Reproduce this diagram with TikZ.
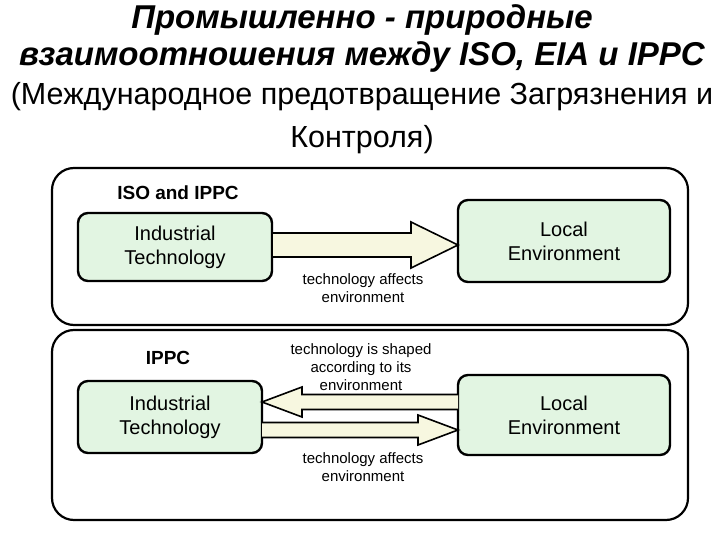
\documentclass[tikz,border=0pt]{standalone}
\usepackage{fontspec}
\setmainfont{Liberation Sans}
\definecolor{boxg}{HTML}{E2F5E2}
\definecolor{arrf}{HTML}{F7F7E0}
\newcommand{\fatarrow}[6]{% start, end, y, shaft half, head half, head len (signed)
  \draw[arr] (#1,#3-#4) -- (#2-#6,#3-#4) -- (#2-#6,#3-#5) -- (#2,#3) -- (#2-#6,#3+#5) -- (#2-#6,#3+#4) -- (#1,#3+#4);}
\begin{document}
\begin{tikzpicture}[x=1pt,y=-1pt,
 panel/.style={draw,line width=2.2pt,rounded corners=22pt},
 gbox/.style={draw,line width=2.4pt,rounded corners=10pt,fill=boxg,align=center,font=\fontsize{20}{24}\selectfont},
 arr/.style={draw,line width=1.6pt,fill=arrf,line join=miter},
 lab/.style={align=center,font=\fontsize{15}{18}\selectfont},
 hd/.style={font=\bfseries\fontsize{19}{22}\selectfont}]
\useasboundingbox (0,0) rectangle (720,540);
\node[font=\bfseries\itshape\fontsize{33}{36}\selectfont] (t1) at (362,20) {Промышленно - природные};
\node[font=\bfseries\itshape\fontsize{33}{36}\selectfont] (t2) at (362,57) {взаимоотношения между ISO, EIA и IPPC};
\node[font=\fontsize{30.5}{33}\selectfont] (t3) at (362,97) {(Международное предотвращение Загрязнения и};
\node[font=\fontsize{30.5}{33}\selectfont] (t4) at (362,140) {Контроля)};
\draw[panel] (52,168) rectangle (688,325);
\draw[panel] (52,330) rectangle (688,520);
\node[hd] (h1) at (178,193) {ISO and IPPC};
\node[gbox,minimum width=194pt,minimum height=68pt] (it1) at (175,247) {Industrial\\Technology};
\node[gbox,minimum width=212pt,minimum height=82pt] (le1) at (564,241) {Local\\Environment};
\fatarrow{273}{458}{245}{12}{23}{47}
\node[lab] (l1) at (363,288) {technology affects\\environment};
\node[hd] (h2) at (168,358) {IPPC};
\node[gbox,minimum width=184pt,minimum height=72pt] (it2) at (170,417) {Industrial\\Technology};
\node[gbox,minimum width=212pt,minimum height=80pt] (le2) at (564,415) {Local\\Environment};
\fatarrow{458}{262}{402}{7.5}{15}{-40}
\fatarrow{262}{458}{430}{7.5}{15}{40}
\node[lab] (l2) at (361,367) {technology is shaped\\according to its\\environment};
\node[lab] (l3) at (363,467) {technology affects\\environment};
\end{tikzpicture}
\end{document}
